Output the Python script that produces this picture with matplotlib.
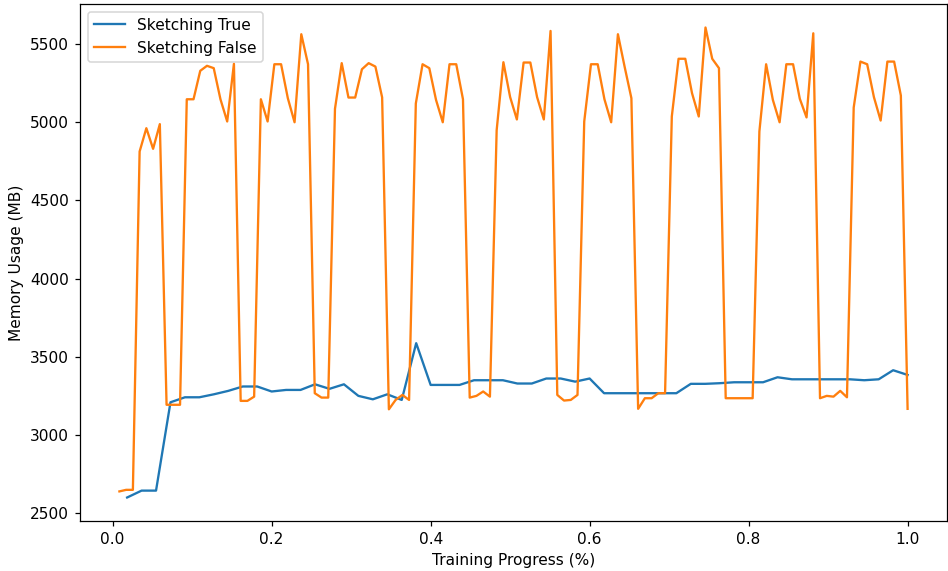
import numpy as np
import matplotlib
matplotlib.use("Agg")
import matplotlib.pyplot as plt

# Sketching True: 55 samples at progress i/55
sketch_true = [
    2600, 2644, 2644, 3209, 3241, 3241, 3260, 3282, 3310, 3310,
    3278, 3288, 3288, 3324, 3295, 3324, 3250, 3228, 3260, 3224,
    3587, 3320, 3320, 3320, 3350, 3350, 3350, 3329, 3329, 3361,
    3361, 3341, 3361, 3267, 3267, 3267, 3267, 3267, 3267, 3327,
    3327, 3331, 3337, 3337, 3337, 3369, 3356, 3356, 3356, 3356,
    3356, 3350, 3356, 3414, 3384,
]

# Sketching False: 118 samples at progress i/118
sketch_false = [
    2639, 2649, 2649, 4813, 4962, 4830, 4988, 3193, 3193, 3193,
    5147, 5147, 5329, 5361, 5346, 5147, 5005, 5374, 3218, 3218,
    3245, 5147, 5005, 5371, 5371, 5154, 5000, 5563, 5371, 3267,
    3239, 3239, 5086, 5378, 5158, 5158, 5339, 5378, 5356, 5159,
    3164, 3224, 3256, 3224, 5120, 5371, 5346, 5143, 5000, 5371,
    5371, 5147, 3239, 3250, 3278, 3245, 4949, 5384, 5161, 5018,
    5382, 5382, 5161, 5018, 5584, 3256, 3220, 3224, 3256, 5005,
    5371, 5371, 5147, 5000, 5563, 5354, 5154, 3167, 3235, 3235,
    3267, 3267, 5037, 5406, 5406, 5186, 5037, 5606, 5406, 5346,
    3235, 3235, 3235, 3235, 3235, 4941, 5371, 5143, 5000, 5371,
    5371, 5150, 5031, 5569, 3235, 3250, 3245, 3282, 3241, 5094,
    5388, 5371, 5161, 5011, 5388, 5388, 5171, 3167,
]

x_true = np.arange(1, len(sketch_true) + 1) / len(sketch_true)
x_false = np.arange(1, len(sketch_false) + 1) / len(sketch_false)

DPI = 111
fig = plt.figure(figsize=(948 / DPI, 571 / DPI), dpi=DPI)
ax = fig.add_axes([80 / 948, 1 - 521 / 571, (947 - 80) / 948, (521 - 4) / 571])

ax.plot(x_true, sketch_true, color="#1f77b4", label="Sketching True")
ax.plot(x_false, sketch_false, color="#ff7f0e", label="Sketching False")

ax.set_xlabel("Training Progress (%)")
ax.set_ylabel("Memory Usage (MB)")
ax.legend(loc="upper left")

fig.savefig("out.png", dpi=DPI)
